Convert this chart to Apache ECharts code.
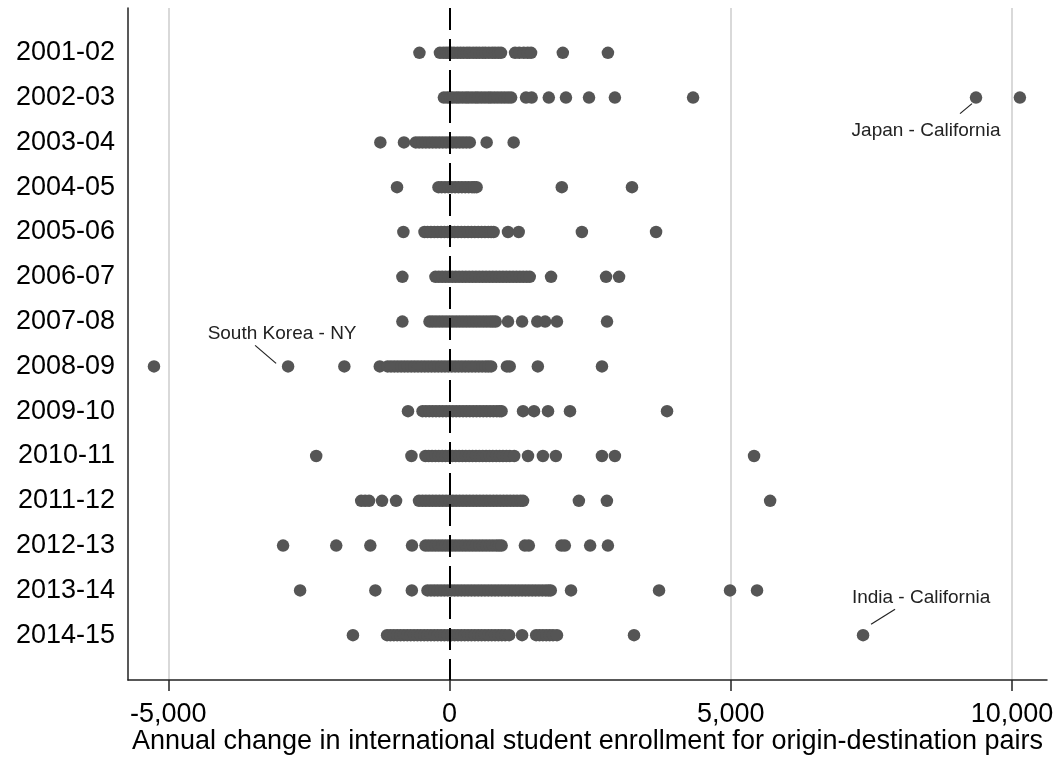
<!DOCTYPE html>
<html>
<head>
<meta charset="utf-8">
<script src="https://cdn.jsdelivr.net/npm/echarts@6/dist/echarts.min.js"></script>
<style>
html, body { margin: 0; background: #fff; }
#main { width: 1062px; height: 757px; }
</style>
</head>
<body>
<div id="main"></div>
<script>
// academic years, top to bottom
var years = ['2001-02', '2002-03', '2003-04', '2004-05', '2005-06', '2006-07', '2007-08',
    '2008-09', '2009-10', '2010-11', '2011-12', '2012-13', '2013-14', '2014-15'];

// annual change per origin-destination pair
var y2001_02 = [-535, -170, -110, -60, -15, 30, 80, 140, 195, 250, 310, 360, 420, 475, 530, 590, 640, 700, 760, 810, 865, 915, 1165, 1240, 1320, 1390, 1450, 2014, 2816];
var y2002_03 = [-100, -40, 10, 60, 120, 170, 230, 290, 340, 400, 460, 510, 570, 630, 690, 740, 800, 860, 920, 980, 1040, 1095, 1360, 1460, 1765, 2070, 2480, 2940, 4330, 9360, 10140];
var y2003_04 = [-1230, -810, -600, -540, -480, -420, -360, -300, -240, -180, -120, -60, 0, 60, 120, 180, 240, 300, 360, 660, 1140];
var y2004_05 = [-933, -196, -140, -80, -20, 40, 100, 160, 220, 280, 340, 400, 440, 481, 1996, 3244];
var y2005_06 = [-820, -445, -390, -330, -270, -210, -150, -90, -30, 30, 90, 150, 210, 270, 330, 390, 450, 510, 570, 630, 690, 740, 784, 1040, 1230, 2353, 3672];
var y2006_07 = [-838, -250, -190, -130, -70, -10, 50, 110, 170, 230, 290, 350, 410, 470, 530, 590, 650, 710, 770, 830, 890, 950, 1010, 1070, 1130, 1190, 1250, 1310, 1370, 1426, 1805, 2783, 3014];
var y2007_08 = [-838, -356, -300, -240, -180, -120, -60, 0, 60, 120, 180, 240, 300, 360, 420, 480, 540, 600, 660, 720, 770, 820, 1040, 1290, 1560, 1700, 1910, 2800];
var y2008_09 = [-5254, -2870, -1870, -1240, -1100, -1040, -980, -920, -860, -800, -740, -680, -620, -560, -500, -440, -380, -320, -260, -200, -140, -80, -20, 40, 100, 160, 220, 280, 340, 400, 460, 520, 580, 640, 690, 740, 1020, 1070, 1570, 2710];
var y2009_10 = [-738, -480, -420, -360, -300, -240, -180, -120, -60, 0, 60, 120, 180, 240, 300, 360, 420, 480, 540, 600, 660, 720, 780, 840, 890, 925, 1307, 1502, 1751, 2142, 3867];
var y2010_11 = [-2370, -677, -428, -370, -310, -250, -190, -130, -70, -10, 50, 110, 170, 230, 290, 350, 410, 470, 530, 590, 650, 710, 770, 830, 890, 950, 1010, 1070, 1150, 1395, 1660, 1890, 2710, 2940, 5414];
var y2011_12 = [-1570, -1500, -1430, -1200, -950, -542, -480, -420, -360, -300, -240, -180, -120, -60, 0, 60, 120, 180, 240, 300, 360, 420, 480, 540, 600, 660, 720, 780, 840, 900, 960, 1020, 1080, 1140, 1200, 1260, 1307, 2300, 2798, 5700];
var y2012_13 = [-2959, -2014, -1408, -667, -428, -370, -310, -250, -190, -130, -70, -10, 50, 110, 170, 230, 290, 350, 410, 470, 530, 590, 650, 710, 770, 830, 880, 927, 1340, 1410, 1990, 2050, 2500, 2816];
var y2013_14 = [-2656, -1319, -670, -392, -330, -270, -210, -150, -90, -30, 30, 90, 150, 210, 270, 330, 390, 450, 510, 570, 630, 690, 750, 810, 870, 930, 990, 1050, 1110, 1170, 1230, 1290, 1350, 1410, 1470, 1530, 1590, 1650, 1710, 1760, 1800, 2160, 3725, 4987, 5467];
var y2014_15 = [-1717, -1110, -1050, -990, -930, -870, -810, -750, -690, -630, -570, -510, -450, -390, -330, -270, -210, -150, -90, -30, 30, 90, 150, 210, 270, 330, 390, 450, 510, 570, 630, 690, 750, 810, 870, 930, 990, 1060, 1290, 1540, 1600, 1660, 1720, 1780, 1840, 1910, 3280, 7352];

var yearValues = [y2001_02, y2002_03, y2003_04, y2004_05, y2005_06, y2006_07, y2007_08,
    y2008_09, y2009_10, y2010_11, y2011_12, y2012_13, y2013_14, y2014_15];

var xTicks = [-5000, 0, 5000, 10000];

// labelled points
var annoText = ['Japan - California', 'South Korea - NY', 'India - California'];
var annoYear = ['2002-03', '2008-09', '2014-15'];
var annoValue = [9360, -2870, 7352];

// pixel offsets of label text and pointer line, relative to the point
var annoLayout = [
    { tx: -50, ty: 33, x1: -16, y1: 16, x2: -4, y2: 6 },
    { tx: -6, ty: -33, x1: -33, y1: -21, x2: -12, y2: -3 },
    { tx: 58, ty: -37, x1: 8, y1: -11, x2: 32, y2: -26 }
];

var font = '"Liberation Sans", Arial, sans-serif';

var points = [];
yearValues.forEach(function (vals, i) {
    vals.forEach(function (v) {
        points.push([v, i + 1]);
    });
});

var annoData = annoValue.map(function (v, i) {
    return [v, years.indexOf(annoYear[i]) + 1, i];
});

var myChart = echarts.init(document.getElementById('main'), null, { renderer: 'canvas' });
var option = {
    animation: false,
    backgroundColor: '#fff',
    grid: { left: 128, right: 15, top: 8, bottom: 77, containLabel: false, outerBoundsMode: 'none' },
    xAxis: {
        type: 'value',
        min: -5716,
        max: 10622,
        name: 'Annual change in international student enrollment for origin-destination pairs',
        nameLocation: 'middle',
        nameGap: 48,
        nameMoveOverlap: false,
        nameTextStyle: { fontFamily: font, fontSize: 27, color: '#000' },
        axisLine: { show: true, onZero: false, lineStyle: { color: '#222', width: 1.5 } },
        axisTick: { show: true, length: 11, customValues: xTicks, lineStyle: { color: '#222', width: 1.5 } },
        axisLabel: {
            customValues: xTicks,
            margin: 21,
            fontFamily: font,
            fontSize: 27,
            color: '#000',
            formatter: function (v) { return v.toLocaleString('en-US'); }
        },
        splitLine: { show: true, lineStyle: { color: ['#d9d9d9', '#fff', '#d9d9d9', '#d9d9d9'], width: 2 } }
    },
    yAxis: {
        type: 'value',
        inverse: true,
        min: 0,
        max: 15,
        interval: 1,
        axisLine: { show: true, onZero: false, lineStyle: { color: '#222', width: 1.5 } },
        axisTick: { show: false },
        splitLine: { show: false },
        axisLabel: {
            margin: 13,
            fontFamily: font,
            fontSize: 27,
            color: '#000',
            formatter: function (v) { return years[v - 1] || ''; }
        }
    },
    series: [
        {
            type: 'scatter',
            data: points,
            symbol: 'circle',
            symbolSize: 12.5,
            itemStyle: { color: '#555', opacity: 1 },
            silent: true,
            markLine: {
                silent: true,
                symbol: 'none',
                label: { show: false },
                lineStyle: { color: '#000', width: 2, type: [22, 9] },
                data: [{ xAxis: 0 }]
            },
            z: 3
        },
        {
            type: 'custom',
            data: annoData,
            silent: true,
            z: 5,
            renderItem: function (params, api) {
                var p = api.coord([api.value(0), api.value(1)]);
                var s = annoLayout[api.value(2)];
                return {
                    type: 'group',
                    children: [
                        {
                            type: 'line',
                            shape: { x1: p[0] + s.x1, y1: p[1] + s.y1, x2: p[0] + s.x2, y2: p[1] + s.y2 },
                            style: { stroke: '#222', lineWidth: 1.2 }
                        },
                        {
                            type: 'text',
                            x: p[0] + s.tx,
                            y: p[1] + s.ty,
                            style: {
                                text: annoText[api.value(2)],
                                font: '19px ' + font,
                                fill: '#222',
                                align: 'center',
                                verticalAlign: 'middle'
                            }
                        }
                    ]
                };
            }
        }
    ]
};
myChart.setOption(option);
</script>
</body>
</html>
